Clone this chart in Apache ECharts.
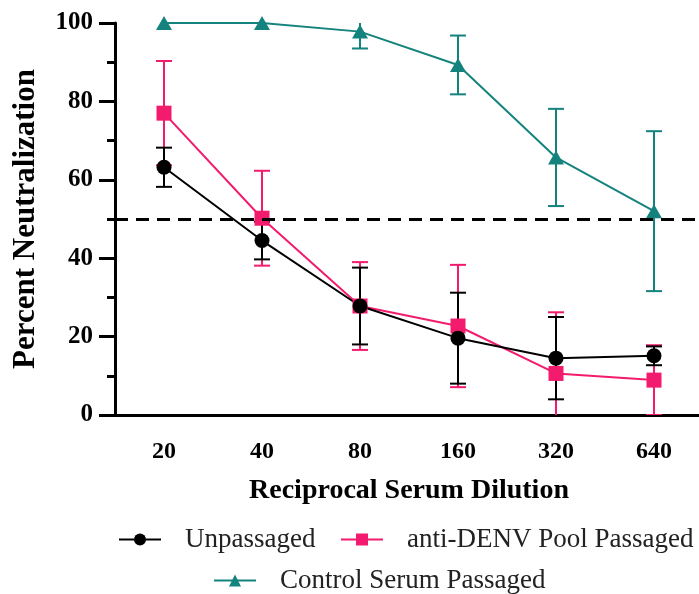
<!DOCTYPE html>
<html>
<head>
<meta charset="utf-8">
<script src="https://cdn.jsdelivr.net/npm/echarts@6/dist/echarts.min.js"></script>
<style>
  html, body { margin: 0; padding: 0; background: #fff; }
  #chart { width: 699px; height: 594px; }
</style>
</head>
<body>
<div id="chart"></div>
<script>
// Reciprocal serum dilutions (x categories)
const dilutions = ['20', '40', '80', '160', '320', '640'];
const yTicks = [0, 20, 40, 60, 80, 100];

// Mean percent neutralization and SD per group
const unpassagedMean = [63.2, 44.5, 27.8, 19.6, 14.5, 15.1];
const unpassagedSD   = [5.0, 4.8, 9.8, 11.6, 10.5, 2.4];

const denvPoolMean = [77.0, 50.2, 27.8, 22.7, 10.6, 8.9];
const denvPoolSD   = [13.3, 12.1, 11.2, 15.6, 15.6, 8.9];

const controlMean = [100, 100, 97.8, 89.3, 65.7, 52.0];
const controlSD   = [0, 0, 4.3, 7.5, 12.4, 20.4];

const threshold = 50;

const names = ['Unpassaged', 'anti-DENV Pool Passaged', 'Control Serum Passaged'];
const colors = { black: '#000000', pink: '#f31b6d', teal: '#14837e' };
const SERIF = "'Liberation Serif', 'Times New Roman', serif";

function errorData(mean, sd) {
  return mean.map((m, i) => [i, m - sd[i], m + sd[i], sd[i]]);
}

function errorBars(name, mean, sd, color) {
  return {
    type: 'custom',
    name: name + ' SD',
    clip: true,
    silent: true,
    data: errorData(mean, sd),
    encode: { x: 0, y: [1, 2] },
    renderItem: function (params, api) {
      if (api.value(3) <= 0) return null;
      const i = api.value(0);
      const lo = api.coord([i, api.value(1)]);
      const hi = api.coord([i, api.value(2)]);
      const hw = 8;
      const style = { stroke: color, lineWidth: 2, fill: null };
      return {
        type: 'group',
        children: [
          { type: 'line', shape: { x1: lo[0], y1: lo[1], x2: hi[0], y2: hi[1] }, style: style },
          { type: 'line', shape: { x1: hi[0] - hw, y1: hi[1], x2: hi[0] + hw, y2: hi[1] }, style: style },
          { type: 'line', shape: { x1: lo[0] - hw, y1: lo[1], x2: lo[0] + hw, y2: lo[1] }, style: style }
        ]
      };
    }
  };
}

function lineSeries(name, mean, color, symbol, size) {
  return {
    type: 'line',
    name: name,
    data: mean,
    clip: false,
    symbol: symbol,
    symbolSize: size,
    showAllSymbol: true,
    lineStyle: { color: color, width: 2 },
    itemStyle: { color: color },
    emphasis: { disabled: true }
  };
}

const legendText = { fontFamily: SERIF, fontSize: 27, color: '#222', padding: [0, 0, 0, 19] };
function legendAt(name, left, top) {
  return {
    data: [name], left: left, top: top, orient: 'horizontal',
    itemWidth: 42, itemHeight: 15, padding: 0,
    textStyle: legendText, selectedMode: false
  };
}

const chart = echarts.init(document.getElementById('chart'), null, { renderer: 'canvas' });
chart.setOption({
  animation: false,
  backgroundColor: '#fff',
  grid: { left: 115, right: -4, top: 23, bottom: 179, containLabel: false, outerBoundsMode: 'none' },
  xAxis: {
    type: 'category',
    data: dilutions,
    boundaryGap: true,
    name: 'Reciprocal Serum Dilution',
    nameLocation: 'middle',
    nameGap: 62,
    nameTextStyle: { fontFamily: SERIF, fontSize: 28, fontWeight: 'bold', color: '#000' },
    axisLine: { lineStyle: { color: '#000', width: 3 } },
    axisTick: { alignWithLabel: true, length: 16, lineStyle: { color: '#000', width: 3 } },
    axisLabel: { margin: 25, fontFamily: SERIF, fontSize: 24, fontWeight: 'bold', color: '#000' },
    splitLine: { show: false }
  },
  yAxis: {
    type: 'value',
    min: yTicks[0],
    max: yTicks[yTicks.length - 1],
    interval: 20,
    name: 'Percent Neutralization',
    nameLocation: 'middle',
    nameGap: 74,
    nameTextStyle: { fontFamily: SERIF, fontSize: 31, fontWeight: 'bold', color: '#000' },
    axisLine: { show: true, lineStyle: { color: '#000', width: 3 } },
    axisTick: { show: true, length: 16, lineStyle: { color: '#000', width: 3 } },
    minorTick: { show: true, splitNumber: 2, length: 8, lineStyle: { color: '#000', width: 3 } },
    axisLabel: { margin: 22, fontFamily: SERIF, fontSize: 25, fontWeight: 'bold', color: '#000' },
    splitLine: { show: false }
  },
  legend: [
    legendAt(names[0], 118, 526),
    legendAt(names[1], 340, 526),
    legendAt(names[2], 213, 567)
  ],
  series: [
    errorBars(names[2], controlMean, controlSD, colors.teal),
    Object.assign(lineSeries(names[2], controlMean, colors.teal, 'triangle', [16, 14]), {
      markLine: {
        silent: true,
        symbol: 'none',
        label: { show: false },
        lineStyle: { color: '#000', width: 3, type: [13, 8] },
        data: [{ yAxis: threshold }]
      }
    }),
    errorBars(names[1], denvPoolMean, denvPoolSD, colors.pink),
    lineSeries(names[1], denvPoolMean, colors.pink, 'rect', 15),
    errorBars(names[0], unpassagedMean, unpassagedSD, colors.black),
    lineSeries(names[0], unpassagedMean, colors.black, 'circle', 15)
  ]
});
</script>
</body>
</html>
